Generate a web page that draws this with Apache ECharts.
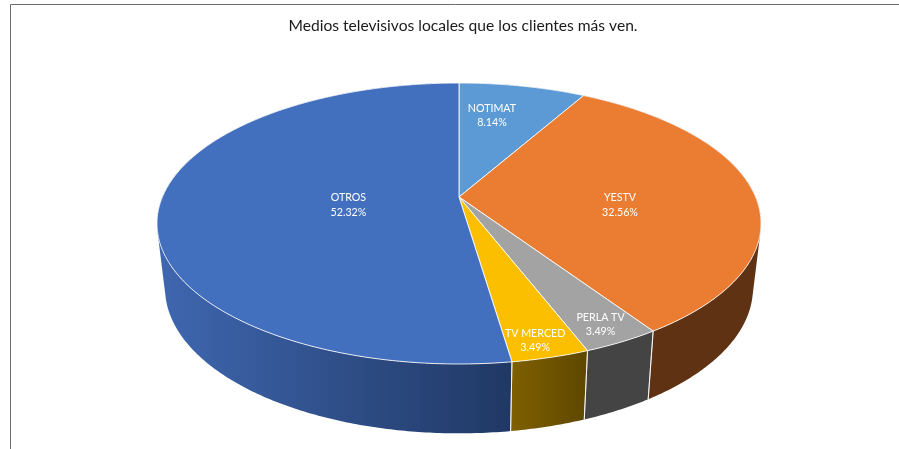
<!DOCTYPE html>
<html><head><meta charset="utf-8">
<style>html,body{margin:0;padding:0;background:#fff}#c{width:899px;height:449px}</style>
<script src="https://cdn.jsdelivr.net/npm/echarts@6/dist/echarts.min.js"></script>
</head><body><div id="c"></div>
<script>
const categories = ['NOTIMAT','YESTV','PERLA TV','TV MERCED','OTROS'];
const values = [8.14,32.56,3.49,3.49,52.32];
const topColors = ['#5B9AD5','#EB7D32','#A3A3A3','#FCBF00','#4270BF'];
const sideColors = [['#2E5A82','#2E5A82'],['#5F3213','#5F3213'],['#444444','#444444'],['#7F6000','#5E4700'],['#3F67B0','#203864']];
const labelNudge = [[-13.6,-0.1],[-45.5,11.5],[34,31.9],[16,38.2],[98.5,1]];
const topDisc = {cx:459,cy:197,a:296.6,b:135.5,k:0.1886};
const baseDisc = {cx:459,cy:260.5,a:288.6,b:140,k:0.19};
const total = values.reduce((s,v)=>s+v,0);
function project(d,theta,r){
  const u=r*Math.sin(theta), v=r*Math.cos(theta), w=1+d.k*v;
  return [d.cx+d.a*u/w, d.cy-d.b*v/w];
}
function arc(d,t0,t1){
  const n=Math.max(2,Math.ceil((t1-t0)/0.01)), pts=[];
  for(let i=0;i<=n;i++) pts.push(project(d,t0+(t1-t0)*i/n,1));
  return pts;
}
function wallPath(top,base){
  let s='';
  for(let i=0;i<top.length-1;i++){
    let q=[top[i],top[i+1],base[i+1],base[i]];
    let area=0;
    for(let j=0;j<4;j++){const a=q[j],b=q[(j+1)%4];area+=a[0]*b[1]-b[0]*a[1];}
    if(area<0) q=q.reverse();
    s+='M'+q.map(p=>p[0].toFixed(2)+' '+p[1].toFixed(2)).join('L')+'Z';
  }
  return s;
}
function renderItem(params,api){
  const i=params.dataIndex;
  let before=0; for(let j=0;j<i;j++) before+=values[j];
  const t0=before/total*2*Math.PI, t1=(before+api.value(0))/total*2*Math.PI, mid=(t0+t1)/2;
  const topArc=arc(topDisc,t0,t1), baseArc=arc(baseDisc,t0,t1);
  const sc=sideColors[i];
  const xs=topArc.concat(baseArc).filter(p=>p[1]>topDisc.cy).map(p=>p[0]);
  const xMin=Math.min.apply(null,xs), xMax=Math.max.apply(null,xs);
  const fill=new echarts.graphic.LinearGradient(xMin,0,xMax,0,[{offset:0,color:sc[0]},{offset:1,color:sc[1]}],true);
  const anchor=project(topDisc,mid,0.7);
  const children=[
    {type:'path',z2:1,shape:{pathData:wallPath(topArc,baseArc)},style:{fill:fill,stroke:null}},
    {type:'polygon',z2:10,shape:{points:[[topDisc.cx,topDisc.cy]].concat(topArc)},
      style:{fill:topColors[i],stroke:'rgba(255,255,255,0.85)',lineWidth:1,lineJoin:'round'}},
    {type:'text',z2:20,x:anchor[0]+labelNudge[i][0],y:anchor[1]+labelNudge[i][1],
      style:{text:categories[i]+'\n'+api.value(0).toFixed(2)+'%',fill:'#fff',font:'10.7px Lato, sans-serif',
        align:'center',verticalAlign:'middle',lineHeight:14.5}}
  ];
  [t0,t1].forEach(t=>{
    if(Math.cos(t)<-0.5){
      const a=project(topDisc,t,1), b=project(baseDisc,t,1);
      children.push({type:'line',z2:5,shape:{x1:a[0],y1:a[1],x2:b[0],y2:b[1]},
        style:{stroke:'rgba(255,255,255,0.75)',lineWidth:1}});
    }
  });
  return {type:'group',children};
}
const chart=echarts.init(document.getElementById('c'),null,{renderer:'canvas'});
chart.setOption({
  animation:false,
  backgroundColor:'#fff',
  title:{text:'Medios televisivos locales que los clientes más ven.',left:458,top:13,textAlign:'center',
    textStyle:{fontFamily:'Lato, sans-serif',fontSize:15.6,fontWeight:'normal',color:'#1a1a1a'}},
  graphic:[{type:'rect',silent:true,z:-1,shape:{x:10.5,y:4.5,width:1000,height:1000},style:{fill:'none',stroke:'#6b6b6b',lineWidth:1}}],
  series:[{type:'custom',coordinateSystem:'none',renderItem,clip:false,
    data:categories.map((c,i)=>({name:c,value:[values[i]]}))}]
});
</script></body></html>
